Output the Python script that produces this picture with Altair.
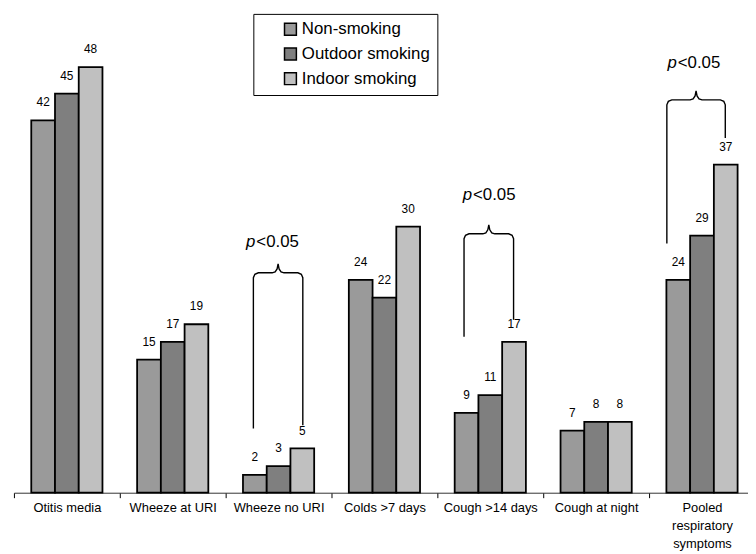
import altair as alt
import pandas as pd

# ---------------- data ----------------
categories = ["Otitis media", "Wheeze at URI", "Wheeze no URI", "Colds >7 days",
              "Cough >14 days", "Cough at night", "Pooled respiratory symptoms"]
series = ["Non-smoking", "Outdoor smoking", "Indoor smoking"]
non_smoking = [42, 15, 2, 24, 9, 7, 24]
outdoor_smoking = [45, 17, 3, 22, 11, 8, 29]
indoor_smoking = [48, 19, 5, 30, 17, 8, 37]
colors = ["#9a9a9a", "#7f7f7f", "#c0c0c0"]

# significance brackets (values in data units, leg positions as fraction of category band)
bracket_cats = ["Wheeze no URI", "Cough >14 days", "Pooled respiratory symptoms"]
bracket_top = [24.8, 29.2, 44.3]
bracket_left_end = [7.25, 17.6, 28.1]
bracket_right_end = [7.6, 19.5, 40.0]
bracket_left_pos = [0.262, 0.252, 0.168]
bracket_right_pos = [0.729, 0.720, 0.720]
sig_label_level = [28.3, 33.6, 48.4]
sig_label_shift = [-0.056, 0.0, -0.023]

# ---------------- layout ----------------
X_RANGE = 749
N = len(categories)
BAND = X_RANGE / N
Y_MAX = 54
H = 484
PXY = H / Y_MAX

def ux(px):
    return px / BAND

def uy(px):
    return px / PXY

rows = []
for s, vals in zip(series, [non_smoking, outdoor_smoking, indoor_smoking]):
    for c, v in zip(categories, vals):
        rows.append({"category": c, "series": s, "value": v})
bars_df = pd.DataFrame(rows)

path_rows = []
text_rows = []
r, w, h = 5.0, 6.0, 9.0
for i, cat in enumerate(bracket_cats):
    idx = categories.index(cat)
    xl = idx + bracket_left_pos[i]
    xr = idx + bracket_right_pos[i]
    xm = (xl + xr) / 2
    T = bracket_top[i]
    pts = [
        (xl, bracket_left_end[i]),
        (xl, T - uy(r)),
        (xl + ux(1.5), T - uy(1.5)),
        (xl + ux(r), T),
        (xm - ux(w), T),
        (xm - ux(3), T + uy(1)),
        (xm - ux(1), T + uy(4)),
        (xm, T + uy(h)),
        (xm + ux(1), T + uy(4)),
        (xm + ux(3), T + uy(1)),
        (xm + ux(w), T),
        (xr - ux(r), T),
        (xr - ux(1.5), T - uy(1.5)),
        (xr, T - uy(r)),
        (xr, bracket_right_end[i]),
    ]
    for k, (px, py) in enumerate(pts):
        path_rows.append({"b": i, "k": k, "px": px, "py": py})
    text_rows.append({"px": xm + sig_label_shift[i], "py": sig_label_level[i]})
path_df = pd.DataFrame(path_rows)
text_df = pd.DataFrame(text_rows)

FONT = "Liberation Sans"

band_scale = alt.Scale(range=[0, X_RANGE], paddingInner=0, paddingOuter=0)
x_band = alt.X(
    "category:N", sort=categories, scale=band_scale,
    axis=alt.Axis(
        title=None, labelAngle=0, tickBand="extent", tickSize=5, tickColor="black",
        domainColor="#333333", labelFontSize=13, labelColor="black", labelFont=FONT,
        labelPadding=4, labelLineHeight=18, labelLimit=0, labelOverlap=False,
        labelBound=False,
        labelExpr="datum.value == 'Pooled respiratory symptoms' ? ['Pooled', 'respiratory', 'symptoms'] : datum.value",
    ),
)
x_band_plain = alt.X("category:N", sort=categories, scale=band_scale, axis=None)
y_val = alt.Y("value:Q", scale=alt.Scale(domain=[0, Y_MAX], nice=False), axis=None)
x_off = alt.XOffset("series:N", sort=series,
                    scale=alt.Scale(domain=series, paddingOuter=0.73, paddingInner=0))

bars = alt.Chart(bars_df).mark_bar(stroke="black", strokeWidth=1.8).encode(
    x=x_band, xOffset=x_off, y=y_val,
    color=alt.Color(
        "series:N",
        scale=alt.Scale(domain=series, range=colors),
        legend=alt.Legend(
            title=None, orient="none", legendX=242, legendY=0, direction="vertical",
            symbolType="square", symbolSize=144, symbolStrokeColor="black",
            symbolStrokeWidth=1.5, symbolOpacity=1, labelFontSize=17, labelFont=FONT,
            labelColor="black", rowPadding=6, padding=7, symbolOffset=22, labelOffset=3,
            strokeColor="black", fillColor="white", cornerRadius=0,
        ),
    ),
)

values = alt.Chart(bars_df).mark_text(
    baseline="bottom", dy=-11, fontSize=12, font=FONT, color="black"
).encode(x=x_band_plain, xOffset=x_off, y=y_val, text=alt.Text("value:Q"))

x_q = alt.X("px:Q", scale=alt.Scale(domain=[0, N], range=[0, X_RANGE], nice=False, zero=False), axis=None)
y_q = alt.Y("py:Q", scale=alt.Scale(domain=[0, Y_MAX], nice=False), axis=None)

brackets = alt.Chart(path_df).mark_line(color="black", strokeWidth=1.4).encode(
    x=x_q, y=y_q, detail="b:N", order="k:Q"
)
p_text = alt.Chart(text_df).mark_text(
    align="right", baseline="middle", dx=-17, fontSize=17, fontStyle="italic", font=FONT, color="black"
).encode(x=x_q, y=y_q, text=alt.value("p"))
rest_text = alt.Chart(text_df).mark_text(
    align="left", baseline="middle", dx=-16, fontSize=17, font=FONT, color="black"
).encode(x=x_q, y=y_q, text=alt.value("<0.05"))

chart = alt.layer(bars, values, brackets, p_text, rest_text).resolve_scale(
    x="independent"
).properties(
    width=742, height=H,
    autosize=alt.AutoSizeParams(type="none"),
    padding={"left": 6, "top": 3, "right": 0, "bottom": 60},
).configure_view(stroke=None)

chart.save("out.html", embed_options={"renderer": "svg", "actions": False})
